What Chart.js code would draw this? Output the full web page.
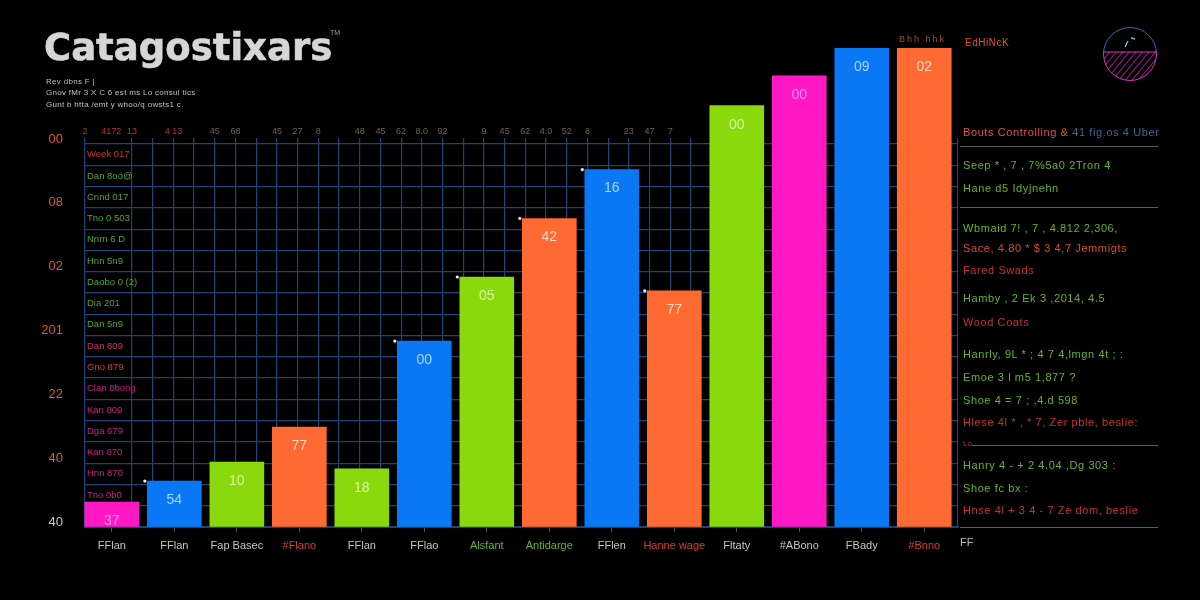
<!DOCTYPE html>
<html>
<head>
<meta charset="utf-8">
<style>
  html, body { margin: 0; padding: 0; background: #000; }
  #wrap { position: relative; width: 1200px; height: 600px; overflow: hidden; background: #000; }
  canvas { position: absolute; left: 0; top: 0; }
  .t { position: absolute; white-space: nowrap; font-family: "Liberation Sans", sans-serif; line-height: 1; }
  #title { left: 44px; top: 26px; font: 700 37px "DejaVu Sans", sans-serif; color: #d6d6d6; letter-spacing: 0; -webkit-text-stroke: 0.6px #d6d6d6; }
  .sub { left: 46px; font-size: 8px; color: #c0c0c0; letter-spacing: 0.3px; }
  .row { left: 963px; font-size: 11px; letter-spacing: 0.6px; }
  .g { color: #63b428; } .r { color: #c8302c; } .o { color: #e0523a; } .b { color: #43648f; }
  .rule { position: absolute; left: 960px; width: 198px; height: 1px; background: #5e5e5e; }
</style>
</head>
<body>
<div id="wrap">
  <canvas id="chart" width="1200" height="600"></canvas>
  <div class="t" id="title">Catagostixars</div>
  <div class="t" style="left:330px;top:29px;font-size:7px;color:#999">TM</div>
  <div class="t sub" style="top:78px">Rev dbns F |</div>
  <div class="t sub" style="top:89px">Gnov fMr 3 X C 6 est ms Lo consul tics</div>
  <div class="t sub" style="top:101px">Gunt b htta /emt y whoo/q owsts1 c.</div>
  <div class="t" style="left:899px;top:35px;font-size:9px;letter-spacing:2px;color:#a84a36">Bhh hhk</div>
  <div class="t o" style="left:965px;top:38px;font-size:10px;letter-spacing:.5px">EdHiNcK</div>

  <svg style="position:absolute;left:1100px;top:24px" width="60" height="60">
    <defs>
      <pattern id="hatch" width="5" height="5" patternUnits="userSpaceOnUse" patternTransform="rotate(40)">
        <line x1="0" y1="0" x2="0" y2="5" stroke="#e02fc0" stroke-width="1.4"/>
      </pattern>
      <clipPath id="low"><rect x="0" y="28" width="60" height="32"/></clipPath>
      <clipPath id="up"><rect x="0" y="0" width="60" height="28"/></clipPath>
    </defs>
    <circle cx="30" cy="30" r="26.5" fill="none" stroke="#2a6fb0" stroke-width="1" clip-path="url(#up)"/>
    <circle cx="30" cy="30" r="26.5" fill="url(#hatch)" stroke="#e02fc0" stroke-width="1" clip-path="url(#low)"/>
    <line x1="3" y1="28" x2="57" y2="28" stroke="#e02fc0" stroke-width="1"/>
    <path d="M25 23 L28 17 M31 14 L35 15" stroke="#7fb0e0" stroke-width="1.5"/>
  </svg>

  <div class="t row" style="top:127px"><span class="o">Bouts Controlling &amp; </span><span class="b">41 fig.os 4 Uber</span></div>
  <div class="rule" style="top:146px"></div>
  <div class="t row g" style="top:160px">Seep * , 7 , 7%5a0 2Tron 4</div>
  <div class="t row g" style="top:183px">Hane d5 Idyjnehn</div>
  <div class="rule" style="top:207px"></div>
  <div class="t row g" style="top:223px">Wbmaid 7! , 7 , 4.812 2,306,</div>
  <div class="t row" style="top:243px;color:#d84c2c">Sace, 4.80 * $ 3 4,7 Jemmigts</div>
  <div class="t row r" style="top:265px">Fared Swads</div>
  <div class="t row g" style="top:293px">Hamby , 2 Ek 3 ,2014, 4.5</div>
  <div class="t row r" style="top:317px">Wood Coats</div>
  <div class="t row g" style="top:349px">Hanrly, 9L * ; 4 7 4,lmgn 4t ; :</div>
  <div class="t row g" style="top:372px">Emoe 3 l m5 1,877 ?</div>
  <div class="t row g" style="top:395px">Shoe 4 = 7 ; ,4.d 598</div>
  <div class="t row r" style="top:417px">Hlese 4l * , * 7, Zer pble, beslie:</div>
  <div class="t" style="left:963px;top:440px;font-size:8px;color:#c8302c">Lo</div>
  <div class="rule" style="top:445px;left:972px;width:186px;background:#c8342c"></div>
  <div class="t row g" style="top:460px">Hanry 4 - + 2 4.04 ,Dg 303 :</div>
  <div class="t row g" style="top:483px">Shoe fc bx :</div>
  <div class="t row r" style="top:505px">Hnse 4l + 3 4 - 7 Ze dom, beslie</div>
  <div class="rule" style="top:527px"></div>
  <div class="t" style="left:960px;top:537px;font-size:11px;color:#bbb">FF</div>
</div>

<script src="https://cdn.jsdelivr.net/npm/chart.js@4"></script>
<script>
const categories = ['FFlan', 'FFlan', 'Fap Basec', '#Flano', 'FFlan', 'FFlao', 'Alsfant', 'Antidarge',
  'FFlen', 'Hanne wage', 'Fltaty', '#ABono', 'FBady', '#Bnno'];
const values = [11.7, 21.6, 30.5, 47, 27.3, 87.4, 117.5, 145, 168, 111, 198, 212, 225, 225];
const barLabels = ['37', '54', '10', '77', '18', '00', '05', '42', '16', '77', '00', '00', '09', '02'];
const barKinds = ['pink', 'blue', 'green', 'orange', 'green', 'blue', 'green', 'orange', 'blue', 'orange', 'green', 'pink', 'blue', 'orange'];
const cornerDots = [1, 5, 6, 7, 8, 9, 10];
const yLabels = ['40', '40', '22', '201', '02', '08', '00'];
const rowLabels = ['Week 017', 'Dan 8oo@', 'Cnnd 017', 'Tno 0 503', 'Nnrn 6 D', 'Hnn 5n9', 'Daobo 0 (2)',
  'Dia 201', 'Dan 5n9', 'Dan 809', 'Gno 879', 'Clan 8bong', 'Kan 809', 'Dga 679', 'Kan 870', 'Hnn 870', 'Tno 0b0', ''];
const topLabels = ['2', '4172', '13', '', '4 13', '', '45', '68', '', '45', '27', '8', '', '48', '45', '62', '8.0',
  '92', '', '9', '45', '62', '4.0', '52', '8', '', '23', '47', '7'];

const fills = { pink: '#ff19c4', blue: '#0a78f5', green: '#8ad90c', orange: '#ff6a33' };
const inks = { pink: '#ff8fe0', blue: '#a8d4ff', green: '#d8f5a0', orange: '#ffd9c4' };
const redCats = [3, 9, 13], greenCats = [6, 7];
const barThickness = 54, bandPx = 62.5;
const gridColor = '#1b4478';

// Bar captions sit just under the top edge of each bar
const barCaptions = {
  id: 'barCaptions',
  afterDatasetsDraw(chart) {
    const ctx = chart.ctx;
    ctx.save();
    ctx.font = '14px "Liberation Sans", sans-serif';
    ctx.textAlign = 'center';
    ctx.textBaseline = 'middle';
    chart.getDatasetMeta(0).data.forEach((bar, i) => {
      ctx.fillStyle = inks[barKinds[i]];
      ctx.fillText(barLabels[i], bar.x, bar.y + 19);
    });
    ctx.restore();
  }
};

new Chart(document.getElementById('chart').getContext('2d'), {
  data: {
    datasets: [{
      type: 'bar',
      data: categories.map((c, i) => ({ x: i, y: values[i] })),
      backgroundColor: barKinds.map(k => fills[k]),
      barThickness,
      clip: false,
      xAxisID: 'x',
      yAxisID: 'y',
      order: 2
    }, {
      type: 'scatter',
      data: cornerDots.map(i => ({ x: i - barThickness / bandPx / 2 - 0.04, y: values[i] })),
      pointRadius: 1.6,
      backgroundColor: '#f2f2f2',
      borderWidth: 0,
      clip: false,
      xAxisID: 'x',
      yAxisID: 'y',
      order: 1
    }]
  },
  options: {
    responsive: false,
    animation: false,
    devicePixelRatio: 1,
    layout: { padding: { right: 242 } },
    plugins: { legend: { display: false }, tooltip: { enabled: false } },
    scales: {
      x: {
        type: 'linear',
        position: 'bottom',
        offset: false,
        min: -0.43,
        max: 13.54,
        afterFit: s => { s.height = 73; },
        grid: { offset: false, drawOnChartArea: false, drawTicks: true, tickLength: 5, color: '#555' },
        border: { color: gridColor, width: 2 },
        ticks: {
          stepSize: 1,
          includeBounds: false,
          autoSkip: false,
          maxRotation: 0,
          padding: 7,
          font: { family: 'Liberation Sans', size: 11 },
          color: ctx => redCats.includes(ctx.tick.value) ? '#d0402c' : greenCats.includes(ctx.tick.value) ? '#63b428' : '#c4c4c4',
          callback: v => categories[v]
        }
      },
      // only carries the finer vertical grid and the dim header row above it
      xGrid: {
        type: 'linear',
        position: 'top',
        offset: false,
        min: -2.27,
        max: 39.9,
        afterFit: s => { s.height = 144; },
        border: { display: false },
        grid: {
          offset: false,
          tickLength: 6,
          lineWidth: 1.2,
          color: ctx => (ctx.tick.value > -2.2 && ctx.tick.value < 0) ? 'transparent' : gridColor
        },
        ticks: {
          stepSize: 1,
          autoSkip: false,
          maxRotation: 0,
          padding: 1,
          font: { family: 'Liberation Sans', size: 9 },
          color: ctx => ctx.index < 5 ? '#b0362c' : '#6e6258',
          callback: (v, i) => topLabels[i] || ''
        }
      },
      y: {
        type: 'linear',
        position: 'left',
        weight: 1,
        min: 0,
        max: 180,
        afterFit: s => { s.width = 85; },
        border: { display: false },
        grid: { drawTicks: false, color: gridColor, lineWidth: 1.2 },
        ticks: {
          stepSize: 10,
          autoSkip: false,
          padding: 22,
          labelOffset: -5,
          font: { family: 'Liberation Sans', size: 13 },
          color: ctx => ctx.tick.value === 0 ? '#c4c4c4' : '#d85a3a',
          callback: v => v % 30 === 0 ? yLabels[v / 30] : ''
        }
      },
      yRows: {
        type: 'category',
        position: 'left',
        weight: 0,
        labels: rowLabels,
        offset: true,
        afterFit: s => { s.width = 0; },
        border: { display: false },
        grid: { display: false, drawTicks: false },
        ticks: {
          mirror: true,
          autoSkip: false,
          padding: 2,
          font: { family: 'Liberation Sans', size: 9.5 },
          color: ctx => ctx.index === 0 ? '#c8302c' : ctx.index < 9 ? '#4fa82a' : ctx.index < 11 ? '#d0345a' : '#c0208a'
        }
      }
    }
  },
  plugins: [barCaptions]
});
</script>
</body>
</html>
